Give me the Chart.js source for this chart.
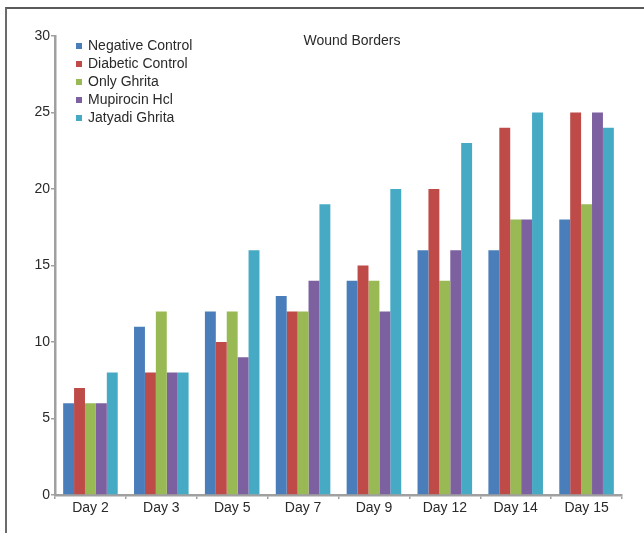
<!DOCTYPE html>
<html>
<head>
<meta charset="utf-8">
<script src="https://cdn.jsdelivr.net/npm/chart.js@4/dist/chart.umd.min.js"></script>
<style>
  html, body { margin: 0; padding: 0; background: #fff; }
  #wrap { position: relative; width: 644px; height: 533px; }
  #frame { position: absolute; left: 5px; top: 7px; width: 639px; height: 526px;
           border-top: 2px solid #5a5a5a; border-left: 2px solid #6b6b6b; box-sizing: border-box; }
  canvas { position: absolute; left: 0; top: 0; }
</style>
</head>
<body>
<div id="wrap">
  <div id="frame"></div>
  <canvas id="c" width="644" height="533"></canvas>
</div>
<script>
const categories = ['Day 2', 'Day 3', 'Day 5', 'Day 7', 'Day 9', 'Day 12', 'Day 14', 'Day 15'];
const seriesNames = ['Negative Control', 'Diabetic Control', 'Only Ghrita', 'Mupirocin Hcl', 'Jatyadi Ghrita'];
const negativeControl = [6, 11, 12, 13, 14, 16, 16, 18];
const diabeticControl = [7, 8, 10, 12, 15, 20, 24, 25];
const onlyGhrita      = [6, 12, 12, 12, 14, 14, 18, 19];
const mupirocinHcl    = [6, 8, 9, 14, 12, 16, 18, 25];
const jatyadiGhrita   = [8, 8, 16, 19, 20, 23, 25, 24];
const seriesColors = ['#4a7ebb', '#be4b48', '#98b954', '#7d60a0', '#46aac5'];
const yTicks = [0, 5, 10, 15, 20, 25, 30];

const values = [negativeControl, diabeticControl, onlyGhrita, mupirocinHcl, jatyadiGhrita];
const FONT = '"Liberation Sans", Arial, sans-serif';
const TEXT = '#2a2a2a';

// Title and in-plot legend drawn on top of the chart
const overlay = {
  id: 'overlay',
  afterDraw(chart) {
    const ctx = chart.ctx;
    ctx.save();
    ctx.font = '14px ' + FONT;
    ctx.fillStyle = TEXT;
    ctx.textAlign = 'center';
    ctx.textBaseline = 'middle';
    ctx.fillText('Wound Borders', 352, 41);
    ctx.textAlign = 'left';
    chart.data.datasets.forEach((ds, i) => {
      const y = 46 + i * 18;
      ctx.fillStyle = ds.backgroundColor;
      ctx.fillRect(76, y - 3, 6, 6);
      ctx.fillStyle = TEXT;
      ctx.fillText(ds.label, 88, y);
    });
    ctx.restore();
  }
};

new Chart(document.getElementById('c'), {
  type: 'bar',
  data: {
    labels: categories,
    datasets: seriesNames.map((name, i) => ({
      label: name,
      data: values[i],
      backgroundColor: seriesColors[i],
      borderWidth: 0,
      barPercentage: 1,
      categoryPercentage: 0.77
    }))
  },
  options: {
    responsive: false,
    animation: false,
    layout: { padding: { left: 0, top: 36, right: 22, bottom: 0 } },
    plugins: { legend: { display: false }, title: { display: false }, tooltip: { enabled: false } },
    scales: {
      x: {
        afterFit(s) { s.height = 38; },
        grid: { display: true, drawOnChartArea: false, drawTicks: true, tickLength: 4, color: '#a0a0a0', lineWidth: 1.5, offset: true },
        border: { color: '#a0a0a0', width: 2.5 },
        ticks: { color: TEXT, font: { family: FONT, size: 14 }, padding: 1, maxRotation: 0 }
      },
      y: {
        min: 0, max: 30,
        afterFit(s) { s.width = 55; },
        afterBuildTicks(s) { s.ticks = yTicks.map(v => ({ value: v })); },
        grid: { display: true, drawOnChartArea: false, drawTicks: true, tickLength: 4, color: '#a0a0a0', lineWidth: 1.5 },
        border: { color: '#a0a0a0', width: 2.5 },
        ticks: { color: TEXT, font: { family: FONT, size: 14 }, padding: 1 }
      }
    }
  },
  plugins: [overlay]
});
</script>
</body>
</html>
